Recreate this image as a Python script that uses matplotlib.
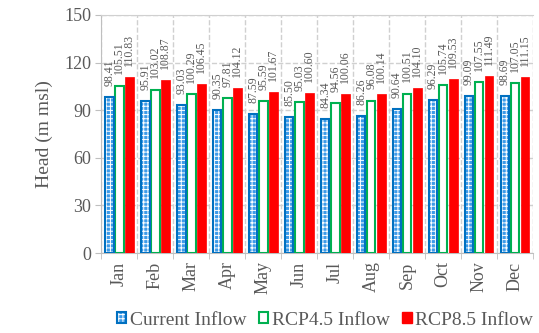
import numpy as np
import matplotlib.pyplot as plt
from matplotlib.patches import Patch
from matplotlib.legend_handler import HandlerTuple

months = ['Jan', 'Feb', 'Mar', 'Apr', 'May', 'Jun', 'Jul', 'Aug', 'Sep', 'Oct', 'Nov', 'Dec']
current = [98.41, 95.91, 93.03, 90.35, 87.59, 85.50, 84.34, 86.26, 90.64, 96.29, 99.09, 98.69]
rcp45 = [105.51, 103.02, 100.29, 97.81, 95.59, 95.03, 94.56, 96.08, 100.51, 105.74, 107.55, 107.05]
rcp85 = [110.83, 108.87, 106.45, 104.12, 101.67, 100.60, 100.06, 100.14, 104.10, 109.53, 111.49, 111.15]

plt.rcParams['font.family'] = 'Liberation Serif'
plt.rcParams['hatch.linewidth'] = 0.7
gray = '#595959'
blue_fill = '#3D9BE9'

fig = plt.figure(figsize=(5.39, 3.33), dpi=100)
ax = fig.add_axes([0.188, 0.240, 0.801, 0.715])

x = np.arange(len(months))
w = 0.24

# current inflow: blue fill with white pattern, darker blue border
ax.bar(x - 0.28, current, w, color=blue_fill, edgecolor='white', hatch='++++', linewidth=0, zorder=3)
ax.bar(x - 0.28, current, w, fill=False, edgecolor='#0070C0', linewidth=1.5, zorder=4)
ax.bar(x, rcp45, w, color='white', edgecolor='#00B050', linewidth=1.5, zorder=3)
ax.bar(x + 0.28, rcp85, w, color='#FF0000', edgecolor='#FF0000', linewidth=0.5, zorder=3)

for off, vals in [(-0.28, current), (0, rcp45), (0.28, rcp85)]:
    for xi, v in zip(x, vals):
        ax.text(xi + off, v + 7, f'{v:.2f}', rotation=90, ha='center', va='bottom',
                fontsize=8.5, color=gray, zorder=5)

ax.set_xlim(-0.5, 11.5)
ax.set_ylim(0, 150)
ax.set_yticks(np.arange(0, 151, 30))
ax.set_xticks(x)
ax.set_xticklabels(months, rotation=90, fontsize=13, color=gray)
ax.set_xticks(np.arange(-0.5, 12, 1), minor=True)
ax.tick_params(axis='x', which='major', length=0, pad=6)
ax.tick_params(axis='x', which='minor', length=4, color='#BFBFBF')
ax.tick_params(axis='y', labelsize=13, labelcolor=gray, color='#BFBFBF', length=4)
ax.grid(axis='y', linestyle='--', color='#D0D0D0', linewidth=1, zorder=0)
ax.grid(axis='x', which='minor', linestyle='--', color='#D0D0D0', linewidth=1, zorder=0)
ax.spines['right'].set_visible(False)
for s in ['left', 'bottom']:
    ax.spines[s].set_color('#BFBFBF')
ax.spines['top'].set_color('#D0D0D0')
ax.set_ylabel('Head (m msl)', fontsize=14, color=gray, labelpad=8)

h1 = (Patch(facecolor=blue_fill, edgecolor='white', hatch='++++', linewidth=0),
      Patch(fill=False, edgecolor='#0070C0', linewidth=1.5))
h2 = Patch(facecolor='white', edgecolor='#00B050', linewidth=1.5)
h3 = Patch(facecolor='#FF0000', edgecolor='#FF0000')
fig.legend([h1, h2, h3], ['Current Inflow', 'RCP4.5 Inflow', 'RCP8.5 Inflow'],
           handler_map={tuple: HandlerTuple(ndivide=1)},
           loc='center', bbox_to_anchor=(0.603, 0.039), ncol=3, frameon=False,
           fontsize=14, handlelength=0.5, handleheight=0.5, handletextpad=0.2,
           columnspacing=0.6, labelcolor=gray, borderpad=0)

fig.savefig('out.png', dpi=100)
